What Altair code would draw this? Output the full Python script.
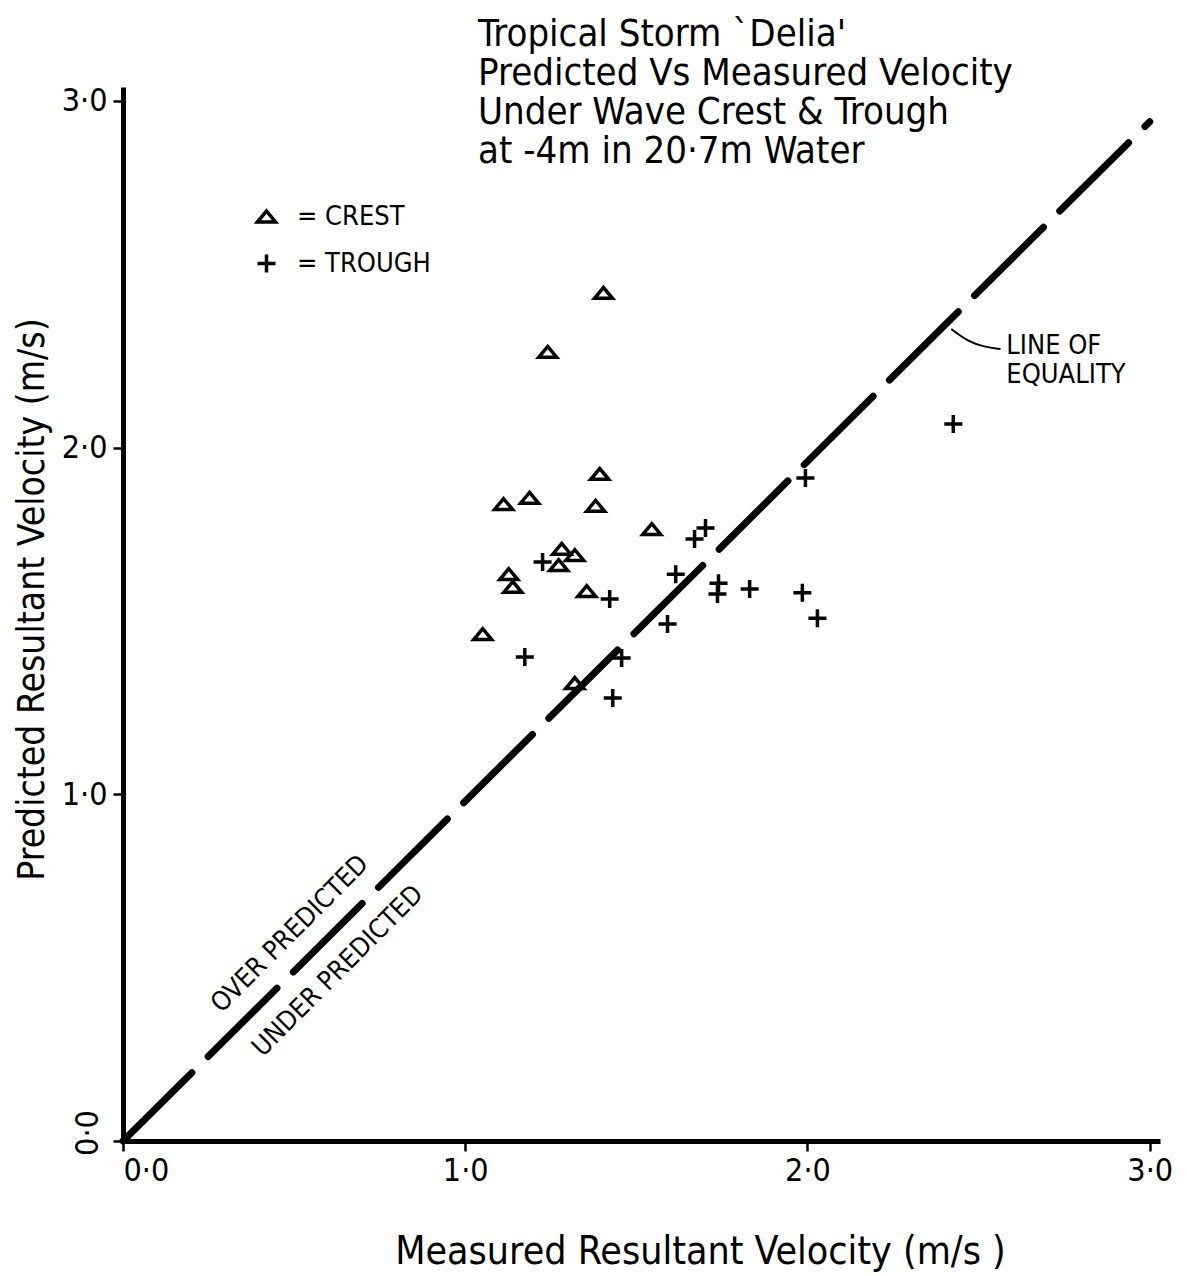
import altair as alt
import pandas as pd

# ---- data ----
crest_x = [1.404, 1.241, 1.393, 1.112, 1.188, 1.381, 1.545, 1.282, 1.320, 1.273, 1.127, 1.139, 1.355, 1.051, 1.320]
crest_y = [2.446, 2.276, 1.924, 1.837, 1.855, 1.832, 1.765, 1.708, 1.690, 1.661, 1.635, 1.598, 1.586, 1.462, 1.321]
trough_x = [1.226, 1.422, 1.174, 1.457, 1.431, 1.591, 1.615, 1.670, 1.702, 1.740, 1.737, 1.831, 1.985, 2.029, 2.426, 1.994]
trough_y = [1.670, 1.563, 1.396, 1.393, 1.278, 1.491, 1.635, 1.736, 1.768, 1.609, 1.578, 1.592, 1.581, 1.508, 2.068, 1.912]
equality_x = [0.0, 3.0]
equality_y = [0.0, 2.94]
tick_values = [0, 1, 2, 3]
title_lines = ["Tropical Storm `Delia'", "Predicted Vs Measured Velocity",
               "Under Wave Crest & Trough", "at -4m in 20·7m Water"]

# annotation anchors (data units)
region_text = ["OVER PREDICTED", "UNDER PREDICTED"]
region_x = [0.488, 0.628]
region_y = [0.597, 0.490]
eq_text = ["LINE OF", "EQUALITY"]
eq_x = [2.581, 2.581]
eq_y = [2.293, 2.209]
leader_x = [2.420, 2.467, 2.517, 2.564]
leader_y = [2.342, 2.307, 2.290, 2.284]

FONT = "DejaVu Sans Condensed, DejaVu Sans"
TRI = "M-1,0.6L1,0.6L0,-0.6Z"
PLUS = "M-1,0L1,0M0,-1L0,1"

pts = pd.DataFrame({
    "measured": crest_x + trough_x,
    "predicted": crest_y + trough_y,
    "type": ["Crest"] * len(crest_x) + ["Trough"] * len(trough_x),
})
eq = pd.DataFrame({"measured": equality_x, "predicted": equality_y})
reg = pd.DataFrame({"measured": region_x, "predicted": region_y, "t": region_text})
eqt = pd.DataFrame({"measured": eq_x, "predicted": eq_y, "t": eq_text})
lead = pd.DataFrame({"measured": leader_x, "predicted": leader_y, "o": list(range(len(leader_x)))})
zero = pd.DataFrame({"measured": [0.0], "predicted": [0.0], "t": ["0·0"]})

xs = alt.Scale(domain=[0, 3.03], nice=False, zero=False)
ys = alt.Scale(domain=[0, 3.04], nice=False, zero=False)
fmt = "replace(format(datum.value, '.1f'), '.', '·')"

x_enc = alt.X("measured:Q", scale=xs, axis=alt.Axis(
    values=tick_values, labelExpr=fmt, title="Measured Resultant Velocity (m/s )",
    titleX=577, titleY=110, titleBaseline="middle", titleAlign="center",
    titleFontSize=39, labelPadding=4, grid=False))
y_enc = alt.Y("predicted:Q", scale=ys, axis=alt.Axis(
    values=tick_values, labelExpr="datum.value == 0 ? '' : " + fmt,
    title="Predicted Resultant Velocity (m/s)",
    titleX=-91, titleY=512, titleAngle=270, titleBaseline="middle", titleAlign="center",
    titleFontSize=37, labelPadding=6, grid=False))

line = alt.Chart(eq).mark_line(color="black", strokeWidth=7, strokeDash=[97, 23],
                               strokeCap="round").encode(x=x_enc, y=y_enc)

points = alt.Chart(pts).mark_point(filled=False, color="black", strokeWidth=3.5,
                                   size=324, opacity=1).encode(
    x="measured:Q", y="predicted:Q",
    shape=alt.Shape("type:N", scale=alt.Scale(domain=["Crest", "Trough"], range=[TRI, PLUS]),
                    legend=alt.Legend(orient="none", legendX=130, legendY=116, title=None,
                                      labelExpr="datum.label == 'Crest' ? '=  CREST' : '=  TROUGH'",
                                      labelFont=FONT, labelFontSize=27, labelColor="black",
                                      symbolSize=324, symbolStrokeWidth=3.5,
                                      symbolStrokeColor="black", rowPadding=17, labelOffset=17)))

region = alt.Chart(reg).mark_text(angle=315, font=FONT, fontSize=26.5, color="black",
                                  align="center", baseline="middle").encode(
    x="measured:Q", y="predicted:Q", text="t:N")

eqlabel = alt.Chart(eqt).mark_text(font=FONT, fontSize=27, color="black",
                                   align="left", baseline="middle").encode(
    x="measured:Q", y="predicted:Q", text="t:N")

leader = alt.Chart(lead).mark_line(color="black", strokeWidth=2, interpolate="basis").encode(
    x="measured:Q", y="predicted:Q", order="o:Q")

zerolab = alt.Chart(zero).mark_text(font=FONT, fontSize=32, color="black", angle=270,
                                    dx=8, dy=-35, align="center", baseline="middle").encode(
    x="measured:Q", y="predicted:Q", text="t:N")

chart = alt.layer(line, points, region, eqlabel, leader, zerolab).properties(
    width=1037, height=1054,
    background="white",
    padding={"left": 4, "top": 7, "right": 5, "bottom": 5},
    title=alt.TitleParams(text=title_lines, anchor="start", frame="group", dx=355,
                          offset=-86, fontSize=38, font=FONT,
                          fontWeight="normal", lineHeight=39, color="black"),
).configure_view(stroke=None).configure_axis(
    grid=False, domainColor="black", domainWidth=5, tickColor="black", tickWidth=2.5,
    tickSize=10, labelColor="black", titleColor="black", labelFont=FONT, titleFont=FONT,
    labelFontSize=32, titleFontWeight="normal",
)

chart.save("out.html", embed_options={"renderer": "svg", "actions": False})
